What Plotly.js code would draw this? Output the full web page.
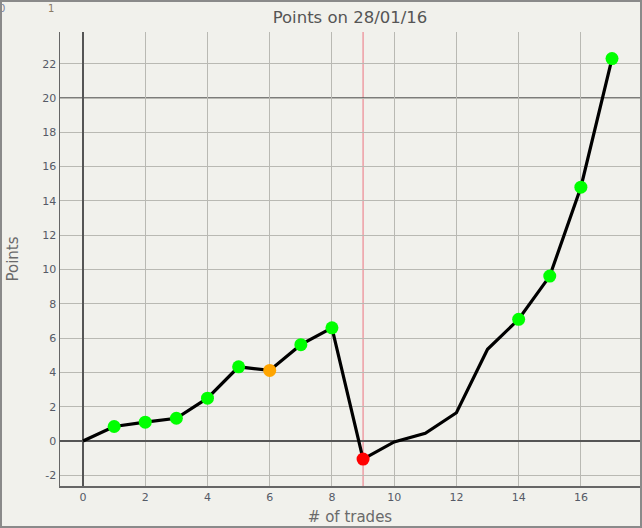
<!DOCTYPE html>
<html>
<head>
<meta charset="utf-8">
<script src="https://cdn.plot.ly/plotly-3.0.1.min.js"></script>
<style>
html,body{margin:0;padding:0;background:#f1f1ec;}
#wrap{position:relative;width:642px;height:528px;}
#chart{width:642px;height:528px;}
#frame{position:absolute;left:0;top:0;width:642px;height:528px;box-sizing:border-box;border:2px solid #8a8a8a;pointer-events:none;}
</style>
</head>
<body>
<div id="wrap"><div id="chart"></div><div id="frame"></div></div>
<script>
// data
const trades = [0,1,2,3,4,5,6,7,8,9,10,11,12,13,14,15,16,17];
const points = [0,0.85,1.1,1.33,2.5,4.33,4.12,5.62,6.6,-1.05,-0.05,0.45,1.65,5.35,7.1,9.62,14.8,22.3];
const outcome = ['none','win','win','win','win','win','flat','win','win','loss','none','none','none','none','win','win','win','win'];
const xTicks = [0,2,4,6,8,10,12,14,16];
const yTicks = [-2,0,2,4,6,8,10,12,14,16,18,20,22];
const markedTrade = 9;
const targetLevel = 20;

const colorMap = {win:'#00ff00', flat:'#ffa500', loss:'#ff0000', none:'rgba(0,0,0,0)'};
const mColors = outcome.map(o => colorMap[o]);
const mSizes = outcome.map(o => o === 'none' ? 0 : 13);

const trace = {
  x: trades, y: points, type:'scatter', mode:'lines+markers',
  line:{color:'#000', width:3.2},
  marker:{color:mColors, size:mSizes, opacity:1, line:{width:0}},
  hoverinfo:'x+y'
};

const tickFont = {family:'DejaVu Sans, Verdana, sans-serif', size:11, color:'#555a66'};
const layout = {
  width:642, height:528,
  margin:{l:60, r:2, t:32, b:42},
  paper_bgcolor:'#f1f1ec', plot_bgcolor:'#f1f1ec',
  showlegend:false,
  title:{text:'Points on 28/01/16', font:{family:'DejaVu Sans, Verdana, sans-serif', size:16.5, color:'#555'}, x:0.5, xref:'paper', y:1-17/528, yref:'container', yanchor:'middle'},
  xaxis:{
    range:[-0.74,17.9], tickvals:xTicks, ticktext:xTicks.map(String),
    showgrid:true, gridcolor:'#b9b9b3', gridwidth:1,
    zeroline:true, zerolinecolor:'#555', zerolinewidth:1.5,
    showline:true, linecolor:'#666', linewidth:1.5, mirror:false,
    ticks:'', tickfont:tickFont,
    title:{text:'# of trades', font:{family:'DejaVu Sans, Verdana, sans-serif', size:15, color:'#6a6a6a'}, standoff:9}
  },
  yaxis:{
    range:[-2.62,23.85], tickvals:yTicks, ticktext:yTicks.map(String),
    showgrid:true, gridcolor:'#b9b9b3', gridwidth:1,
    zeroline:true, zerolinecolor:'#555', zerolinewidth:1.5,
    showline:true, linecolor:'#666', linewidth:1.5,
    ticks:'', tickfont:tickFont, ticklen:0,
    title:{text:'Points', font:{family:'DejaVu Sans, Verdana, sans-serif', size:15, color:'#6a6a6a'}, standoff:20}
  },
  shapes:[
    {type:'line', xref:'x', yref:'paper', x0:markedTrade, x1:markedTrade, y0:0, y1:1, line:{color:'#ec7480', width:1}, layer:'below'},
    {type:'line', xref:'paper', yref:'y', x0:0, x1:1, y0:targetLevel, y1:targetLevel, line:{color:'#555', width:1.5}, layer:'below'}
  ],
  annotations:[
    {text:'0', xref:'paper', yref:'paper', x:-0.1, xanchor:'center', y:1+24/454, yanchor:'middle', showarrow:false, font:{family:'DejaVu Sans, Verdana, sans-serif', size:10, color:'#7a7f99'}},
    {text:'1', xref:'paper', yref:'paper', x:-0.016, xanchor:'center', y:1+24/454, yanchor:'middle', showarrow:false, font:{family:'DejaVu Sans, Verdana, sans-serif', size:10, color:'#8a7a66'}}
  ]
};

Plotly.newPlot('chart', [trace], layout, {displayModeBar:false, staticPlot:true});
</script>
</body>
</html>
